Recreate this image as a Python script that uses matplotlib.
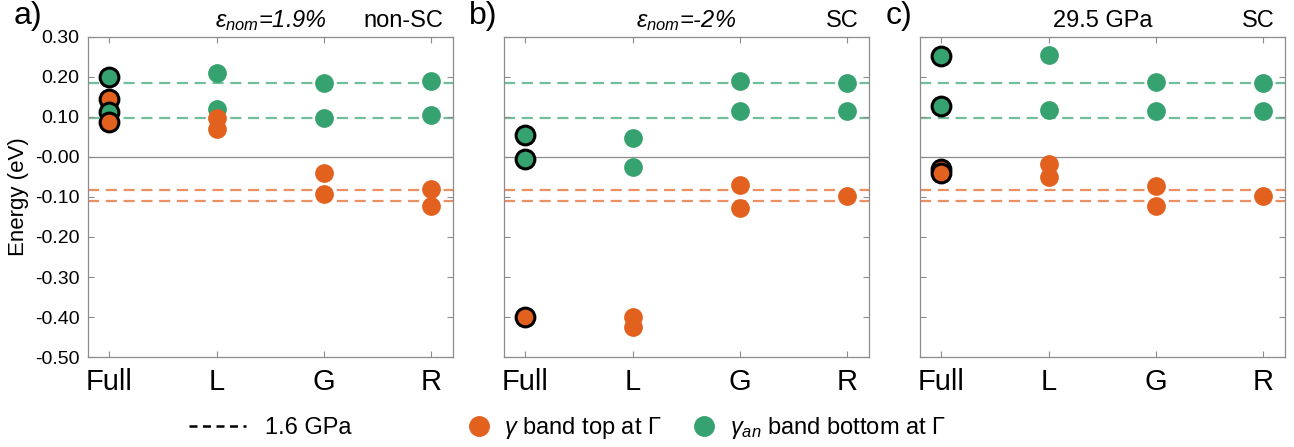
import numpy as np
import matplotlib
matplotlib.use("Agg")
import matplotlib.pyplot as plt
from matplotlib.lines import Line2D

plt.rcParams["font.family"] = ["Liberation Sans", "DejaVu Sans"]
plt.rcParams["mathtext.fontset"] = "custom"
plt.rcParams["mathtext.rm"] = "Liberation Sans"
plt.rcParams["mathtext.it"] = "Liberation Sans:italic"

# categories on the x axis
cats = ["Full", "L", "G", "R"]

# reference levels at 1.6 GPa
ref_green = [0.185, 0.098]
ref_orange = [-0.082, -0.111]

# panel a) eps_nom = 1.9 %
a_green = [[0.200, 0.112], [0.210, 0.121], [0.184, 0.098], [0.191, 0.106]]
a_orange = [[0.144, 0.088], [0.097, 0.070], [-0.041, -0.092], [-0.081, -0.122]]
# panel b) eps_nom = -2 %
b_green = [[0.054, -0.004], [0.048, -0.024], [0.189, 0.116], [0.184, 0.116]]
b_orange = [[-0.400], [-0.400, -0.425], [-0.071, -0.128], [-0.097]]
# panel c) 29.5 GPa
c_green = [[0.253, 0.127], [0.254, 0.117], [0.188, 0.115], [0.184, 0.116]]
c_orange = [[-0.030, -0.040], [-0.018, -0.051], [-0.072, -0.122], [-0.097]]

yticks = [0.3, 0.2, 0.1, 0.0, -0.1, -0.2, -0.3, -0.4, -0.5]
ylabels = ["0.30", "0.20", "0.10", "-0.00", "-0.10", "-0.20", "-0.30", "-0.40", "-0.50"]

panels = [
    ("a)", r"$\varepsilon_{nom}$=1.9%", True, "non-SC", a_green, a_orange),
    ("b)", r"$\varepsilon_{nom}$=-2%", True, "SC", b_green, b_orange),
    ("c)", "29.5 GPa", False, "SC", c_green, c_orange),
]

orange = "#E3611F"
green = "#36A26F"
spine_col = "#8c8c8c"
ms = 13.5

fig = plt.figure(figsize=(12.94, 4.47), dpi=100)
lefts = [0.068, 0.3895, 0.711]

for i, (lab, title, ital, sc, gvals, ovals) in enumerate(panels):
    ax = fig.add_axes([lefts[i], 0.2013, 0.282, 0.716])
    ax.set_xlim(-0.2, 3.2)
    ax.set_ylim(-0.5, 0.3)

    ax.axhline(0, color=spine_col, lw=0.9, zorder=1)
    for v in ref_green:
        ax.axhline(v, color=green, lw=1.6, ls=(0, (5, 3)), alpha=0.7, zorder=1)
    for v in ref_orange:
        ax.axhline(v, color=orange, lw=1.6, ls=(0, (5, 3)), alpha=0.7, zorder=1)

    for j in range(len(cats)):
        pts = [(v, green) for v in gvals[j]] + [(v, orange) for v in ovals[j]]
        if j == 0:
            # full calculation: drawn top to bottom with black outline
            pts = sorted(pts, key=lambda p: -p[0])
            for v, col in pts:
                ax.plot(j, v, "o", ms=ms, mfc=col, mec="black", mew=2.2, zorder=3)
        else:
            for v, col in pts:
                ax.plot(j, v, "o", ms=ms, mfc=col, mec=col, mew=0, zorder=3)

    ax.set_xticks(range(len(cats)))
    ax.set_xticklabels(cats, fontsize=21)
    ax.set_yticks(yticks)
    if i == 0:
        ax.set_yticklabels(ylabels, fontsize=14)
        ax.set_ylabel("Energy (eV)", fontsize=16, labelpad=4)
    else:
        ax.set_yticklabels([])
    ax.tick_params(direction="in", length=4, width=0.8, color=spine_col,
                   top=True, right=True, pad=6)
    ax.tick_params(axis="x", pad=8)
    for s in ax.spines.values():
        s.set_color(spine_col)
        s.set_linewidth(0.9)

    ax.text(0.5, 1.03, title, transform=ax.transAxes, ha="center", va="baseline",
            fontsize=17, style="italic" if ital else "normal")
    ax.text(0.973, 1.03, sc, transform=ax.transAxes, ha="right", va="baseline",
            fontsize=17)
    ax.text(-0.205 if i == 0 else -0.095, 1.02, lab, transform=ax.transAxes,
            ha="left", va="bottom", fontsize=23)

# legends at the bottom
h1 = [Line2D([], [], color="black", ls=(0, (3.2, 2.2)), lw=1.8)]
fig.legend(h1, ["1.6 GPa"], loc="center", bbox_to_anchor=(0.209, 0.043),
           frameon=False, fontsize=17, handlelength=2.4, handletextpad=0.8)
h2 = [Line2D([], [], ls="none", marker="o", ms=14, mfc=orange, mec=orange),
      Line2D([], [], ls="none", marker="o", ms=14, mfc=green, mec=green)]
fig.legend(h2, [r"$\gamma$ band top at Γ", r"$\gamma_{an}$ band bottom at Γ"],
           loc="center", bbox_to_anchor=(0.546, 0.043), ncol=2, frameon=False,
           fontsize=17, handlelength=1.0, handletextpad=0.6, columnspacing=1.3)

fig.savefig("out.png", dpi=100)
